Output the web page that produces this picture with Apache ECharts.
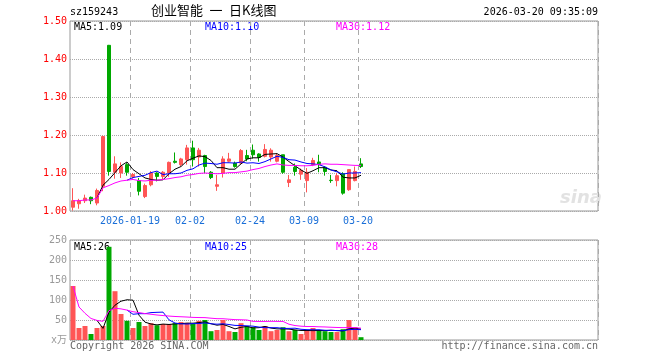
<!DOCTYPE html>
<html><head><meta charset="utf-8">
<script src="https://cdn.jsdelivr.net/npm/echarts@6/dist/echarts.min.js"></script>
<style>html,body{margin:0;padding:0;background:#fff}#c{width:660px;height:360px}</style>
</head><body><div id="c"></div>
<script>
const dates = ['2026-01-05','2026-01-06','2026-01-07','2026-01-08','2026-01-09','2026-01-12','2026-01-13','2026-01-14','2026-01-15','2026-01-16','2026-01-19','2026-01-20','2026-01-21','2026-01-22','2026-01-23','2026-01-26','2026-01-27','2026-01-28','2026-01-29','2026-01-30','2026-02-02','2026-02-03','2026-02-04','2026-02-05','2026-02-06','2026-02-09','2026-02-10','2026-02-11','2026-02-12','2026-02-13','2026-02-24','2026-02-25','2026-02-26','2026-02-27','2026-03-02','2026-03-03','2026-03-04','2026-03-05','2026-03-06','2026-03-09','2026-03-10','2026-03-11','2026-03-12','2026-03-13','2026-03-16','2026-03-17','2026-03-18','2026-03-19','2026-03-20'];
const openP  = [1.010,1.019,1.027,1.036,1.021,1.065,1.436,1.102,1.100,1.122,1.090,1.080,1.038,1.069,1.100,1.091,1.100,1.131,1.122,1.135,1.166,1.142,1.146,1.102,1.065,1.100,1.131,1.126,1.126,1.146,1.160,1.150,1.144,1.142,1.131,1.148,1.075,1.115,1.097,1.080,1.122,1.129,1.115,1.081,1.080,1.098,1.056,1.080,1.124];
const closeP = [1.027,1.027,1.034,1.027,1.054,1.196,1.104,1.124,1.117,1.102,1.096,1.052,1.067,1.100,1.091,1.102,1.128,1.128,1.137,1.166,1.135,1.160,1.117,1.088,1.069,1.137,1.137,1.117,1.159,1.137,1.148,1.141,1.162,1.160,1.146,1.102,1.082,1.104,1.107,1.102,1.133,1.122,1.104,1.080,1.093,1.047,1.109,1.104,1.117];
const lowP   = [1.001,1.006,1.021,1.018,1.015,1.052,1.093,1.085,1.087,1.093,1.085,1.041,1.034,1.065,1.078,1.084,1.090,1.125,1.118,1.122,1.117,1.117,1.100,1.084,1.053,1.088,1.128,1.114,1.124,1.131,1.138,1.130,1.141,1.130,1.128,1.098,1.063,1.093,1.082,1.049,1.118,1.102,1.093,1.074,1.065,1.043,1.053,1.078,1.113];
const highP  = [1.060,1.032,1.043,1.038,1.059,1.198,1.437,1.144,1.128,1.126,1.100,1.087,1.072,1.105,1.102,1.105,1.130,1.154,1.140,1.174,1.185,1.166,1.148,1.105,1.095,1.144,1.153,1.130,1.163,1.161,1.175,1.152,1.176,1.165,1.152,1.148,1.095,1.125,1.112,1.113,1.140,1.148,1.118,1.095,1.100,1.102,1.110,1.117,1.139];
const ma5  = ['-','-','-','-',1.034,1.068,1.083,1.101,1.119,1.129,1.109,1.098,1.087,1.083,1.081,1.082,1.098,1.110,1.117,1.132,1.139,1.145,1.143,1.133,1.114,1.114,1.110,1.110,1.124,1.137,1.140,1.140,1.149,1.150,1.151,1.142,1.130,1.119,1.108,1.099,1.106,1.114,1.114,1.108,1.106,1.089,1.087,1.087,1.094];
const ma10 = ['-','-','-','-','-','-','-','-','-',1.081,1.088,1.091,1.094,1.101,1.105,1.096,1.098,1.098,1.100,1.107,1.111,1.121,1.126,1.125,1.123,1.127,1.127,1.126,1.129,1.126,1.127,1.125,1.130,1.137,1.144,1.141,1.135,1.134,1.129,1.125,1.124,1.122,1.116,1.108,1.103,1.097,1.100,1.100,1.101];
const ma30 = [1.027,1.027,1.029,1.029,1.034,1.061,1.067,1.074,1.079,1.081,1.083,1.080,1.079,1.081,1.081,1.083,1.085,1.088,1.090,1.094,1.096,1.099,1.100,1.099,1.098,1.099,1.101,1.101,1.103,1.105,1.109,1.112,1.117,1.121,1.124,1.121,1.120,1.120,1.119,1.119,1.120,1.123,1.124,1.123,1.123,1.122,1.121,1.120,1.120];
const volume = [135,30,35,15,30,35,233,122,65,48,30,45,35,42,37,40,40,42,45,43,40,48,50,22,25,50,22,20,42,35,32,25,35,22,25,32,22,25,15,25,30,25,22,20,20,27,50,32,7];
const vma5  = ['-','-','-','-',49,29,69.6,87,97,100.6,99.6,62,44.6,40,37.8,39.8,38.8,40.2,40.8,42,42,43.6,45.2,40.6,37,39,33.8,27.8,31.8,33.8,30.2,30.8,33.8,29.8,27.8,27.8,27.2,25.2,23.8,23.8,23.4,24,23.4,24.4,23.4,22.8,27.8,29.8,27.2];
const vma10 = ['-','-','-','-','-','-','-','-','-',74.8,64.3,65.8,65.8,68.5,69.2,69.7,50.4,42.4,40.4,39.9,40.9,41.2,42.7,40.7,39.5,40.5,38.7,36.5,36.2,35.4,34.6,32.3,30.8,30.8,30.8,29,29,29.5,26.8,25.8,25.6,25.6,24.3,24.1,23.6,23.1,25.9,26.6,25.8];
const vma30 = [135,82.5,66.7,53.8,49,46.7,73.3,79.4,77.8,74.8,70.7,68.6,66,64.3,62.5,61.1,59.8,58.8,58.1,57.4,56.5,56.1,55.9,54.5,53.3,53.2,52,50.9,50.6,50,46.6,46.4,46.4,46.7,46.5,46.4,39.4,36.1,34.5,33.7,33.7,33,32.6,31.9,31.3,30.9,31.2,30.9,29.6];
const tickDates  = ['2026-01-19','2026-02-02','2026-02-24','2026-03-09','2026-03-20'];
const tickLabels = ['2026-01-19','02-02','02-24','03-09','03-20'];
const priceTicks = [1.00,1.10,1.20,1.30,1.40,1.50];
const volTicks = [0,50,100,150,200,250];
const slotCount = 88;

const RED = '#ff5555', GREEN = '#00a800';
const MONO = 'DejaVu Sans Mono';
const categories = dates.concat(Array(slotCount - dates.length).fill(''));
const candleData = dates.map((d, i) => [openP[i], closeP[i], lowP[i], highP[i]]);
const volData = volume.map((v, i) => ({value: v, itemStyle: {color: closeP[i] >= openP[i] ? RED : GREEN}}));
const isTick = (i, v) => tickDates.includes(v);

const chart = echarts.init(document.getElementById('c'), null, {renderer: 'canvas'});
const xBase = (gi, showLabel) => ({
  type: 'category', gridIndex: gi, data: categories, boundaryGap: true,
  axisLine: {show: false}, axisTick: {show: false},
  axisLabel: showLabel ? {
    interval: isTick, formatter: (v) => tickLabels[tickDates.indexOf(v)],
    color: '#1a6fd8', fontFamily: MONO, fontSize: 10, margin: 5, padding: [0, 6, 0, 0]
  } : {show: false},
  splitLine: {show: true, interval: isTick, lineStyle: {color: '#aaa', type: [5, 4], width: 1}}
});
chart.setOption({
  animation: false,
  backgroundColor: '#fff',
  grid: [
    {left: 70, top: 21, width: 528, height: 190, show: true, borderColor: '#999', borderWidth: 1},
    {left: 70, top: 240, width: 528, height: 100, show: true, borderColor: '#999', borderWidth: 1}
  ],
  xAxis: [xBase(0, true), xBase(1, false)],
  yAxis: [
    {type: 'value', gridIndex: 0, min: priceTicks[0], max: priceTicks[priceTicks.length - 1], interval: 0.1,
     axisLine: {show: false}, axisTick: {show: false},
     axisLabel: {formatter: v => v.toFixed(2), color: '#ff0000', fontFamily: MONO, fontSize: 10, margin: 3},
     splitLine: {lineStyle: {color: '#aaa', type: 'dotted'}}},
    {type: 'value', gridIndex: 1, min: volTicks[0], max: volTicks[volTicks.length - 1], interval: 50,
     axisLine: {show: false}, axisTick: {show: false},
     axisLabel: {formatter: v => v === 0 ? 'x万' : String(v), color: '#999', fontFamily: MONO + ', "Noto Sans CJK SC"', fontSize: 10, margin: 3},
     splitLine: {lineStyle: {color: '#aaa', type: 'dotted'}}}
  ],
  series: [
    {type: 'candlestick', xAxisIndex: 0, yAxisIndex: 0, data: candleData, barWidth: 4,
     itemStyle: {color: RED, color0: GREEN, borderColor: RED, borderColor0: GREEN, borderWidth: 1}},
    {type: 'line', xAxisIndex: 0, yAxisIndex: 0, data: ma5, showSymbol: false, lineStyle: {color: '#000', width: 1}},
    {type: 'line', xAxisIndex: 0, yAxisIndex: 0, data: ma10, showSymbol: false, lineStyle: {color: '#0000ff', width: 1}},
    {type: 'line', xAxisIndex: 0, yAxisIndex: 0, data: ma30, showSymbol: false, lineStyle: {color: '#ff00ff', width: 1}},
    {type: 'bar', xAxisIndex: 1, yAxisIndex: 1, data: volData, barWidth: 5},
    {type: 'line', xAxisIndex: 1, yAxisIndex: 1, data: vma5, showSymbol: false, lineStyle: {color: '#000', width: 1}},
    {type: 'line', xAxisIndex: 1, yAxisIndex: 1, data: vma10, showSymbol: false, lineStyle: {color: '#0000ff', width: 1}},
    {type: 'line', xAxisIndex: 1, yAxisIndex: 1, data: vma30, showSymbol: false, lineStyle: {color: '#ff00ff', width: 1}}
  ],
  graphic: [
    {type: 'text', left: 70, top: 7, style: {text: 'sz159243', font: '10px ' + MONO, fill: '#000'}},
    {type: 'text', left: 151, top: 4, style: {text: '创业智能\u2002一\u2002日K线图', font: '13px "Noto Sans CJK SC"', fill: '#000'}},
    {type: 'text', right: 62, top: 7, style: {text: '2026-03-20 09:35:09', font: '10px ' + MONO, fill: '#000'}},
    {type: 'text', left: 74, top: 22, style: {text: 'MA5:1.09', font: '10px ' + MONO, fill: '#000'}},
    {type: 'text', left: 205, top: 22, style: {text: 'MA10:1.10', font: '10px ' + MONO, fill: '#0000ff'}},
    {type: 'text', left: 336, top: 22, style: {text: 'MA30:1.12', font: '10px ' + MONO, fill: '#ff00ff'}},
    {type: 'text', left: 74, top: 242, style: {text: 'MA5:26', font: '10px ' + MONO, fill: '#000'}},
    {type: 'text', left: 205, top: 242, style: {text: 'MA10:25', font: '10px ' + MONO, fill: '#0000ff'}},
    {type: 'text', left: 336, top: 242, style: {text: 'MA30:28', font: '10px ' + MONO, fill: '#ff00ff'}},
    {type: 'text', left: 70, top: 341, style: {text: 'Copyright 2026 SINA.COM', font: '10px ' + MONO, fill: '#666'}},
    {type: 'text', right: 62, top: 341, style: {text: 'http://finance.sina.com.cn', font: '10px ' + MONO, fill: '#666'}},
    {type: 'text', left: 560, top: 189, style: {text: 'sina', font: 'italic bold 18px "DejaVu Sans"', fill: '#e2e2e2'}}
  ]
});
</script></body></html>
